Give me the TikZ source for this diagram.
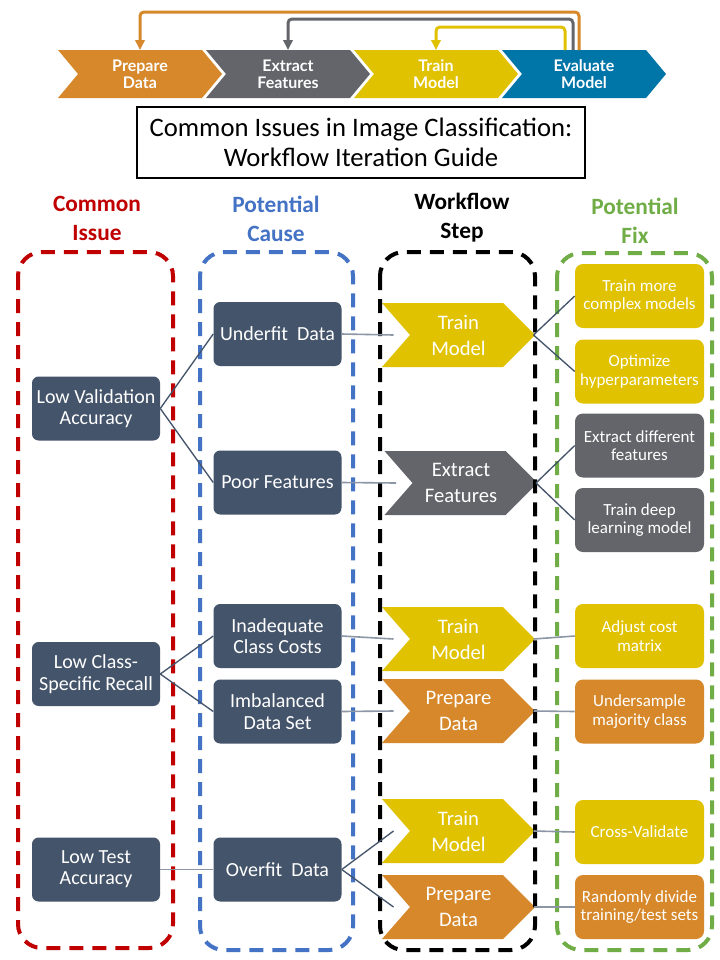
\documentclass[tikz,border=0pt]{standalone}
\usepackage{fontspec}
\setmainfont{Carlito}
\newfontfamily\bandfont{Lato}
\usetikzlibrary{calc,arrows.meta}
\definecolor{slate}{RGB}{68,84,106}
\definecolor{wyel}{RGB}{224,194,0}
\definecolor{worg}{RGB}{214,136,42}
\definecolor{wgray}{RGB}{99,101,106}
\definecolor{wblue}{RGB}{0,117,168}
\definecolor{hred}{RGB}{192,0,0}
\definecolor{hblue}{RGB}{68,114,196}
\definecolor{hgreen}{RGB}{112,173,71}
\definecolor{linegray}{RGB}{140,150,164}

\newcommand\wchev[5]{%
  \fill[#4] (#2,#3) ++(-76.5,-32) -- ++(121,0) -- ++(32,32) -- ++(-32,32) -- ++(-121,0) -- ++(28,-32) -- cycle;
  \node[ctext] (#1) at (#2,#3) {#5};
  \coordinate (#1-in) at ($(#1)+(-65,0)$);
  \coordinate (#1-tip) at ($(#1)+(75,0)$);
}
\newcommand\bchev[4]{%
  \fill[#3] (#2,74) ++(-82,-24) -- ++(144,0) -- ++(20,24) -- ++(-20,24) -- ++(-144,0) -- ++(20,-24) -- cycle;
  \node[bandtext] (#1) at (#2,74) {#4};
}

\begin{document}
\begin{tikzpicture}[x=0.75pt,y=-0.75pt,
  cbox/.style={fill=slate, rounded corners=5pt, minimum width=96pt, minimum height=48pt, inner sep=0pt,
    text=white, align=center, font=\fontsize{15}{16}\selectfont},
  fixbox/.style={rounded corners=6pt, minimum width=96.75pt, minimum height=48pt, inner sep=0pt,
    text=white, align=center, font=\fontsize{12.75}{14}\selectfont},
  ctext/.style={text=white, align=center, font=\fontsize{15.5}{19.5}\selectfont},
  bandtext/.style={text=white, align=center, font=\bandfont\bfseries\fontsize{12}{12.75}\selectfont},
  hdr/.style={font=\bfseries\fontsize{17.5}{21.75}\selectfont, align=center},
  cont/.style={line width=3pt, dash pattern=on 10.5pt off 6.75pt, rounded corners=18pt},
  dline/.style={slate, line width=1pt},
  lline/.style={linegray, line width=1.2pt},
  fb/.style={line width=2.25pt, rounded corners=3pt, -{Triangle[length=7.5pt,width=7pt]}}
]
\fill[white] (0,0) rectangle (720,960);
\useasboundingbox (0,0) rectangle (720,960);

% top band
\bchev{pd}{140}{worg}{Prepare\\Data}
\bchev{ef}{288}{wgray}{Extract\\Features}
\bchev{tm}{436}{wyel}{Train\\Model}
\bchev{ev}{584}{wblue}{Evaluate\\Model}
\draw[fb, worg] ($(ev)+(-5,-24)$) |- ($(pd)+(0,-62)$) -- ($(pd)+(0,-24)$);
\draw[fb, wgray] ($(ev)+(-11,-24)$) |- ($(ef)+(0,-55)$) -- ($(ef)+(0,-24)$);
\draw[fb, wyel] ($(ev)+(-19,-24)$) |- ($(tm)+(0,-47)$) -- ($(tm)+(0,-24)$);

% title
\node[draw=black, line width=1pt, fill=white, minimum width=336pt, minimum height=53.25pt, align=center,
  font=\fontsize{20}{22.5}\selectfont] (title) at (361,142.5)
  {Common Issues in Image Classification:\\Workflow Iteration Guide};

% headers
\node[hdr, text=hred] (h1) at (97,218.5) {Common\\Issue};
\node[hdr, text=hblue] (h2) at (276,218.5) {Potential\\Cause};
\node[hdr, text=black] (h3) at (462,217.5) {Workflow\\Step};
\node[hdr, text=hgreen] (h4) at (635,220.5) {Potential\\Fix};

% issues
\node[cbox] (i1) at (96,408.5) {Low Validation\\Accuracy};
\node[cbox] (i2) at (96,674) {Low Class-\\Specific Recall};
\node[cbox] (i3) at (96,869.5) {Low Test\\Accuracy};
% causes
\node[cbox] (c1) at (277.5,334) {Underfit~ Data};
\node[cbox] (c2) at (277.5,482.5) {Poor Features};
\node[cbox] (c3) at (277.5,636) {Inadequate\\Class Costs};
\node[cbox] (c4) at (277.5,711.5) {Imbalanced\\Data Set};
\node[cbox] (c5) at (277.5,869.5) {Overfit~ Data};

% workflow chevrons
\wchev{tma}{458.5}{335}{wyel}{Train\\Model}
\wchev{efa}{461}{483}{wgray}{Extract\\Features}
\wchev{tmb}{458.5}{639}{wyel}{Train\\Model}
\wchev{pdb}{458.5}{711}{worg}{Prepare\\Data}
\wchev{tmc}{458.5}{831}{wyel}{Train\\Model}
\wchev{pdc}{458.5}{907}{worg}{Prepare\\Data}

% fixes
\node[fixbox, fill=wyel] (f1) at (639.5,296) {Train more\\complex models};
\node[fixbox, fill=wyel] (f2) at (639.5,371.5) {Optimize\\hyperparameters};
\node[fixbox, fill=wgray] (f3) at (639.5,445.5) {Extract different\\features};
\node[fixbox, fill=wgray] (f4) at (639.5,520) {Train deep\\learning model};
\node[fixbox, fill=wyel] (f5) at (639.5,636) {Adjust cost\\matrix};
\node[fixbox, fill=worg] (f6) at (639.5,711.5) {Undersample\\majority class};
\node[fixbox, fill=wyel] (f7) at (639.5,832) {Cross-Validate};
\node[fixbox, fill=worg] (f8) at (639.5,907) {Randomly divide\\training/test sets};

% containers
\draw[cont, hred] (18,252) rectangle (173,948);
\draw[cont, hblue] (200,252) rectangle (353,950);
\draw[cont, black] (380,252) rectangle (535,950);
\draw[cont, hgreen] (557,253) rectangle (712,950);

% connectors
\draw[dline] (i1.east) -- (c1.west);
\draw[dline] (i1.east) -- (c2.west);
\draw[lline] (c1.east) -- (tma-in);
\draw[dline] (tma-tip) -- (f1.west);
\draw[dline] (tma-tip) -- (f2.west);
\draw[lline] (c2.east) -- (efa-in);
\draw[dline] (efa-tip) -- (f3.west);
\draw[dline] (efa-tip) -- (f4.west);
\draw[dline] (i2.east) -- (c3.west);
\draw[dline] (i2.east) -- (c4.west);
\draw[lline] (c3.east) -- (tmb-in);
\draw[lline] (c4.east) -- (pdb-in);
\draw[lline] (tmb-tip) -- (f5.west);
\draw[lline] (pdb-tip) -- (f6.west);
\draw[lline] (i3.east) -- (c5.west);
\draw[dline] (c5.east) -- (tmc-in);
\draw[dline] (c5.east) -- (pdc-in);
\draw[lline] (tmc-tip) -- (f7.west);
\draw[lline] (pdc-tip) -- (f8.west);
\end{tikzpicture}
\end{document}
